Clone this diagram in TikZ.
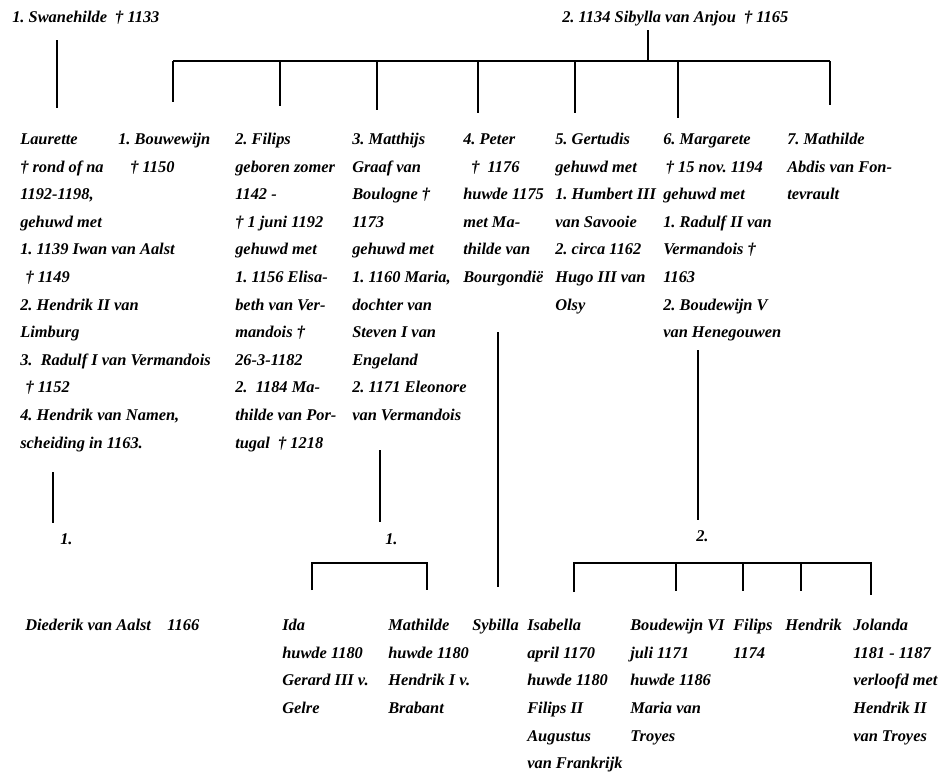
\documentclass[tikz,border=0pt]{standalone}
\usepackage{fontspec}
\setmainfont{Liberation Serif}
\usetikzlibrary{positioning}

\tikzset{
  pers/.style={anchor=north west, inner sep=0pt, align=left,
    font=\fontsize{12.3}{20.7}\selectfont\bfseries\itshape},
  topline/.style={line width=1.6pt},
  lowline/.style={line width=1pt},
}

\begin{document}
\frenchspacing
\begin{tikzpicture}[x=0.75pt,y=-0.75pt]
  \useasboundingbox (0,0) rectangle (942,776);

  % ouders
  \node[pers] (swan) at (12,3) {\strut 1. Swanehilde\ \ † 1133};
  \node[pers] (sib) at (562,3) {\strut 2. 1134 Sibylla van Anjou\ \ † 1165};

  % kinderen
  \node[pers] (laur) at (20,125) {\strut Laurette\\† rond of na\\1192-1198,\\gehuwd met\\1. 1139 Iwan van Aalst\\\hspace*{4pt}† 1149\\2. Hendrik II van\\Limburg\\3.\ \ Radulf I van Vermandois\\\hspace*{4pt}† 1152\\4. Hendrik van Namen,\\scheiding in 1163.};
  \node[pers] (bouw) at (118,125) {\strut 1. Bouwewijn\\\hspace*{9pt}† 1150};
  \node[pers] (fil) at (235,125) {\strut 2. Filips\\geboren zomer\\1142 -\\† 1 juni 1192\\gehuwd met\\1. 1156 Elisa-\\beth van Ver-\\mandois †\\26-3-1182\\2.\ \ 1184 Ma-\\thilde van Por-\\tugal\ \ † 1218};
  \node[pers] (mat) at (352,125) {\strut 3. Matthijs\\Graaf van\\Boulogne †\\1173\\gehuwd met\\1. 1160 Maria,\\dochter van\\Steven I van\\Engeland\\2. 1171 Eleonore\\van Vermandois};
  \node[pers] (pet) at (463,125) {\strut 4. Peter\\\hspace*{6pt}†\ \ 1176\\huwde 1175\\met Ma-\\thilde van\\Bourgondië};
  \node[pers] (ger) at (555,125) {\strut 5. Gertudis\\gehuwd met\\1. Humbert III\\van Savooie\\2. circa 1162\\Hugo III van\\Olsy};
  \node[pers] (mar) at (663,125) {\strut 6. Margarete\\\hspace*{2pt}† 15 nov. 1194\\gehuwd met\\1. Radulf II van\\Vermandois †\\1163\\2. Boudewijn V\\van Henegouwen};
  \node[pers] (mth) at (787,125) {\strut 7. Mathilde\\Abdis van Fon-\\tevrault};

  % kleinkinderen
  \node[pers] (een1) at (60,525) {\strut 1.};
  \node[pers] (een2) at (385,525) {\strut 1.};
  \node[pers] (twee) at (696,522) {\strut 2.};
  \node[pers] (died) at (25,611) {\strut Diederik van Aalst\ \ \ \ 1166};
  \node[pers] (ida) at (282,611) {\strut Ida\\huwde 1180\\Gerard III v.\\Gelre};
  \node[pers] (mth2) at (388,611) {\strut Mathilde\\huwde 1180\\Hendrik I v.\\Brabant};
  \node[pers] (syb) at (472,611) {\strut Sybilla};
  \node[pers] (isa) at (527,611) {\strut Isabella\\april 1170\\huwde 1180\\Filips II\\Augustus\\van Frankrijk};
  \node[pers] (bou6) at (630,611) {\strut Boudewijn VI\\juli 1171\\huwde 1186\\Maria van\\Troyes};
  \node[pers] (fil2) at (733,611) {\strut Filips\\1174};
  \node[pers] (hen) at (785,611) {\strut Hendrik};
  \node[pers] (jol) at (853,611) {\strut Jolanda\\1181 - 1187\\verloofd met\\Hendrik II\\van Troyes};

  % lijnen bovenaan
  \coordinate (sw) at (57,40);  \coordinate (lau) at (57,108);
  \coordinate (sb) at (648,30); \coordinate (sbj) at (648,61);
  \coordinate (bw) at (173,61); \coordinate (be) at (830,61);
  \draw[topline] (sw) -- (lau);
  \draw[topline] (sb) -- (sbj);
  \draw[topline] (bw) -- (be);
  \foreach \k/\x/\y in {1/173/102,2/280/106,3/377/110,4/478/113,5/575/113,6/678/118,7/830/105}
    \draw[topline] (\x,61) coordinate (top\k) -- (\x,\y) coordinate (kid\k);

  % lijnen onderaan
  \coordinate (la1) at (53,472); \coordinate (la2) at (53,523);
  \coordinate (ma1) at (380,450); \coordinate (ma2) at (380,522);
  \coordinate (pe1) at (498,332); \coordinate (pe2) at (498,587);
  \coordinate (mg1) at (698,350); \coordinate (mg2) at (698,520);
  \draw[lowline] (la1) -- (la2);
  \draw[lowline] (ma1) -- (ma2);
  \draw[lowline] (pe1) -- (pe2);
  \draw[lowline] (mg1) -- (mg2);
  \draw[lowline] (312,590) |- (427,563) -- (427,590);
  \draw[lowline] (574,592) |- (871,563) -- (871,595);
  \foreach \x in {676,743,801}
    \draw[lowline] (\x,563) -- (\x,591);
\end{tikzpicture}
\end{document}
